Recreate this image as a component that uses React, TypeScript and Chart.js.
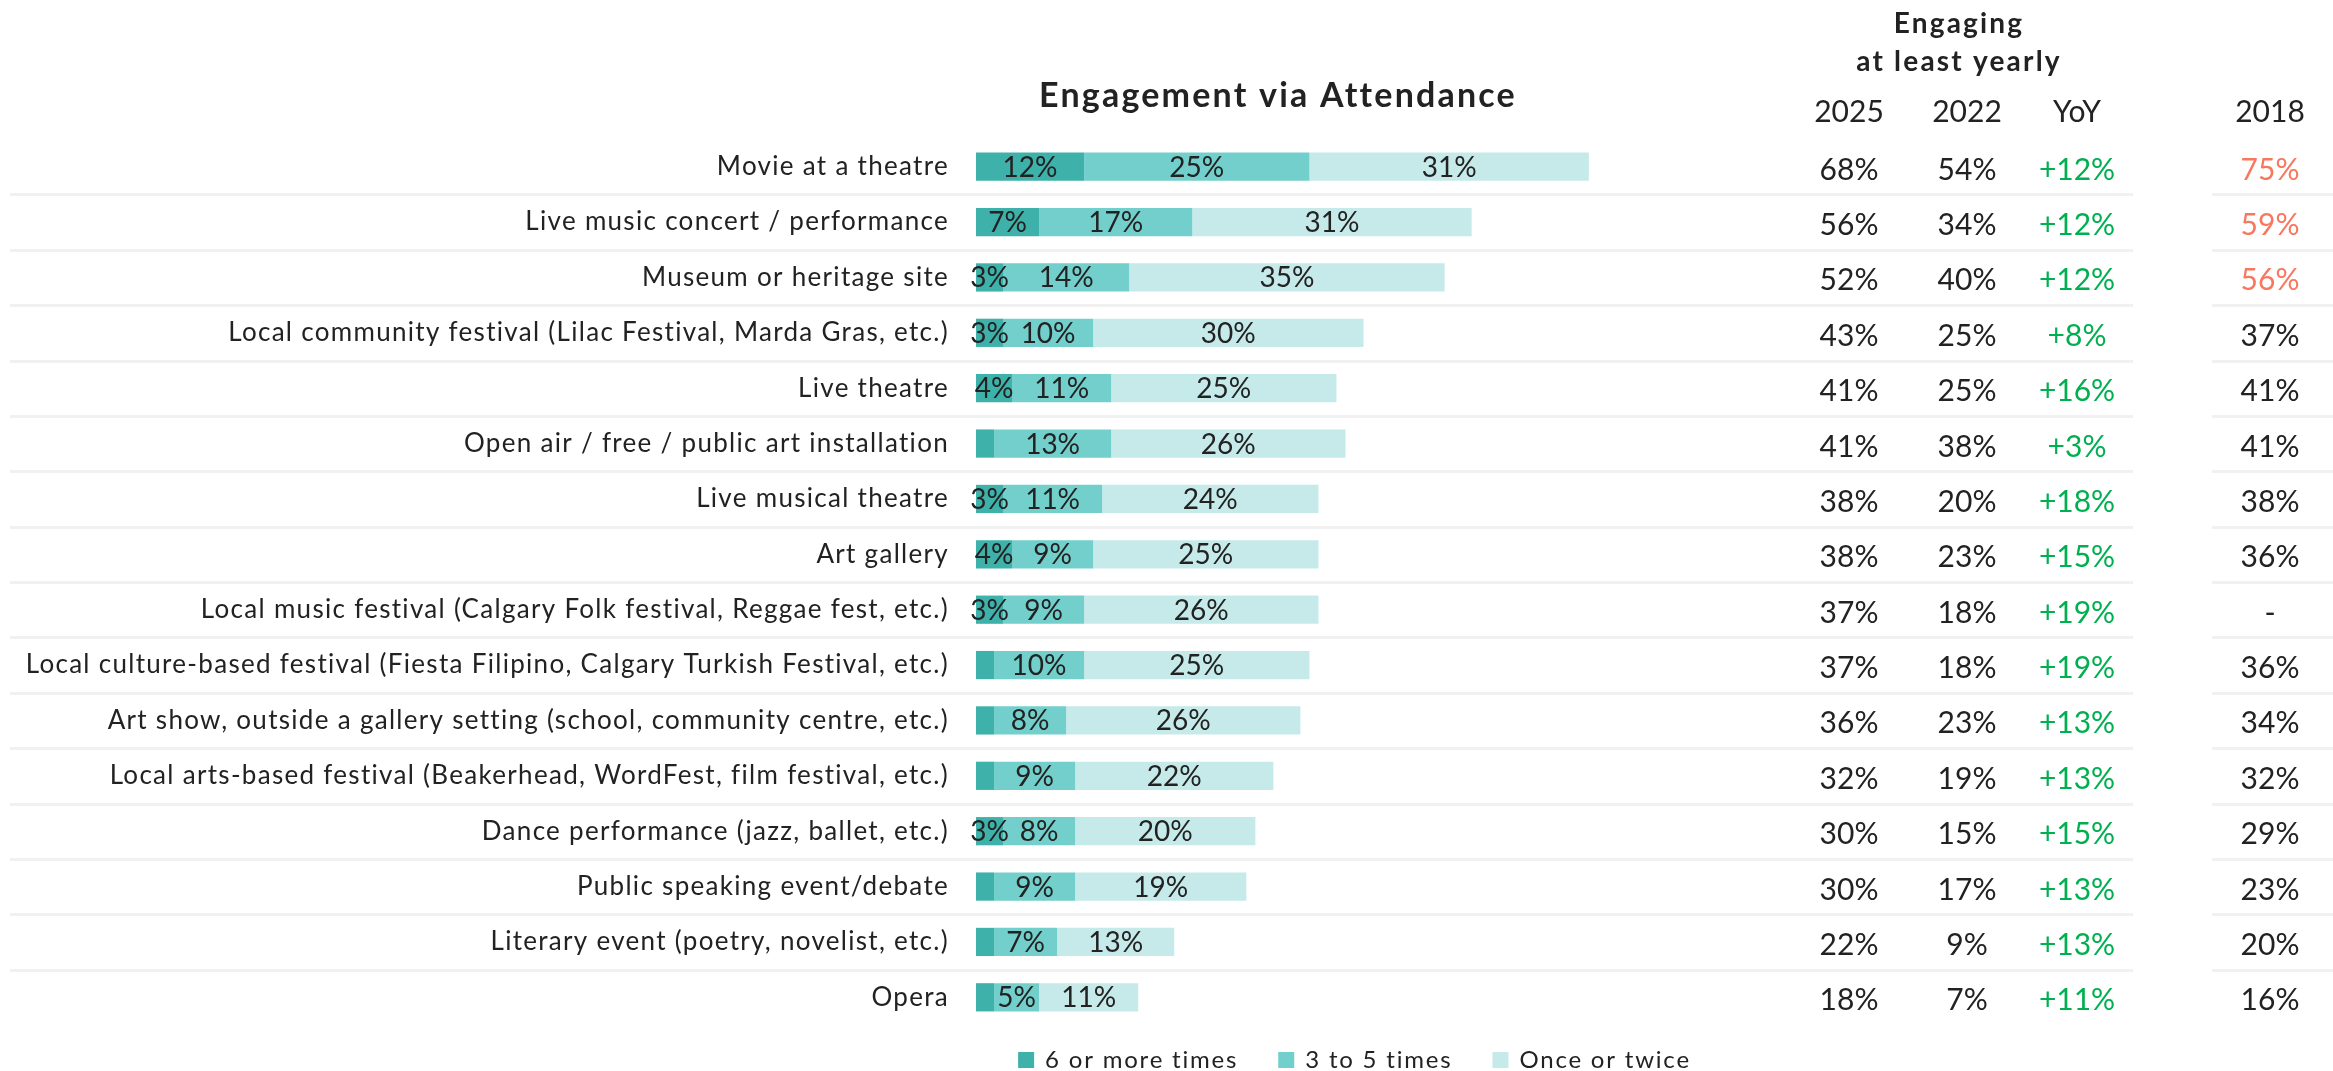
import React, { useEffect, useRef } from 'react';
import { Chart, registerables } from 'chart.js';

Chart.register(...registerables);

const categories = [
  'Movie at a theatre',
  'Live music concert / performance',
  'Museum or heritage site',
  'Local community festival (Lilac Festival, Marda Gras, etc.)',
  'Live theatre',
  'Open air / free / public art installation',
  'Live musical theatre',
  'Art gallery',
  'Local music festival (Calgary Folk festival, Reggae fest, etc.)',
  'Local culture-based festival (Fiesta Filipino, Calgary Turkish Festival, etc.)',
  'Art show, outside a gallery setting (school, community centre, etc.)',
  'Local arts-based festival (Beakerhead, WordFest, film festival, etc.)',
  'Dance performance (jazz, ballet, etc.)',
  'Public speaking event/debate',
  'Literary event (poetry, novelist, etc.)',
  'Opera',
];

const sixOrMore = [12, 7, 3, 3, 4, 2, 3, 4, 3, 2, 2, 2, 3, 2, 2, 2];
const threeToFive = [25, 17, 14, 10, 11, 13, 11, 9, 9, 10, 8, 9, 8, 9, 7, 5];
const onceOrTwice = [31, 31, 35, 30, 25, 26, 24, 25, 26, 25, 26, 22, 20, 19, 13, 11];

const engaged2025 = [68, 56, 52, 43, 41, 41, 38, 38, 37, 37, 36, 32, 30, 30, 22, 18];
const engaged2022 = [54, 34, 40, 25, 25, 38, 20, 23, 18, 18, 23, 19, 15, 17, 9, 7];
const yoyChange = [12, 12, 12, 8, 16, 3, 18, 15, 19, 19, 13, 13, 15, 13, 13, 11];
const engaged2018: (number | null)[] = [75, 59, 56, 37, 41, 41, 38, 36, null, 36, 34, 32, 29, 23, 20, 16];

const seriesNames = ['6 or more times', '3 to 5 times', 'Once or twice'];
const seriesColors = ['#3EB1AA', '#72CFCB', '#C6EAEA'];
const tableHeaders = ['2025', '2022', 'YoY', '2018'];
const chartTitle = 'Engagement via Attendance';
const tableTitle = ['Engaging', 'at least yearly'];
const X_MAX = 84;

const FONT = 'Lato, "Open Sans", sans-serif';
const TEXT = '#222222';
const GREEN = '#00B050';
const CORAL = '#F7785F';
const SEP = '#F1F1F1';

const overlayPlugin = {
  id: 'overlay',
  beforeDraw(chart: any) {
    // spacing used by the category tick labels
    (chart.ctx as any).letterSpacing = '1.3px';
  },
  beforeDatasetsDraw(chart: any) {
    const ctx = chart.ctx;
    const y = chart.scales.y;
    ctx.save();
    ctx.fillStyle = SEP;
    for (let i = 0; i < categories.length - 1; i++) {
      const yb = (y.getPixelForValue(i) + y.getPixelForValue(i + 1)) / 2;
      ctx.fillRect(10, Math.round(yb) - 1, 2123, 3);
      ctx.fillRect(2212, Math.round(yb) - 1, 121, 3);
    }
    ctx.restore();
  },
  afterDatasetsDraw(chart: any) {
    const ctx = chart.ctx;
    ctx.save();
    (ctx as any).letterSpacing = '0px';
    ctx.font = `28px ${FONT}`;
    ctx.fillStyle = TEXT;
    ctx.textAlign = 'center';
    ctx.textBaseline = 'alphabetic';
    chart.data.datasets.forEach((ds: any, di: number) => {
      const meta = chart.getDatasetMeta(di);
      meta.data.forEach((bar: any, i: number) => {
        const v = ds.data[i];
        if (v < 3) return;
        const p = bar.getProps(['x', 'y', 'base'], true);
        ctx.fillText(v + '%', (p.x + p.base) / 2, p.y + 10);
      });
    });
    ctx.restore();
  },
  afterDraw(chart: any) {
    const ctx = chart.ctx;
    const y = chart.scales.y;
    ctx.save();
    ctx.fillStyle = TEXT;
    ctx.textAlign = 'center';
    ctx.textBaseline = 'alphabetic';
    // chart title
    (ctx as any).letterSpacing = '2.2px';
    ctx.font = `bold 34px ${FONT}`;
    ctx.fillText(chartTitle, 1278, 107);
    // table title
    (ctx as any).letterSpacing = '2.2px';
    ctx.font = `bold 28px ${FONT}`;
    ctx.fillText(tableTitle[0], 1959, 33);
    ctx.fillText(tableTitle[1], 1959, 71);
    // headers
    (ctx as any).letterSpacing = '0px';
    const colX = [1849, 1967, 2077, 2270];
    ctx.font = `30px ${FONT}`;
    tableHeaders.forEach((h, k) => ctx.fillText(h, colX[k], 122));
    // values
    categories.forEach((_, i) => {
      const yy = y.getPixelForValue(i) + 13;
      ctx.fillStyle = TEXT;
      ctx.fillText(engaged2025[i] + '%', colX[0], yy);
      ctx.fillText(engaged2022[i] + '%', colX[1], yy);
      ctx.fillStyle = GREEN;
      ctx.fillText((yoyChange[i] >= 0 ? '+' : '') + yoyChange[i] + '%', colX[2], yy);
      const v18 = engaged2018[i];
      ctx.fillStyle = v18 !== null && v18 > engaged2025[i] ? CORAL : TEXT;
      ctx.fillText(v18 === null ? '-' : v18 + '%', colX[3], yy);
    });
    // legend
    (ctx as any).letterSpacing = '1.8px';
    ctx.font = `24px ${FONT}`;
    ctx.textAlign = 'left';
    const items = chart.data.datasets.map((ds: any) => ({
      label: ds.label,
      color: ds.backgroundColor,
      w: 16 + 11 + ctx.measureText(ds.label).width,
    }));
    const gap = 40;
    const total = items.reduce((s: number, it: any) => s + it.w, 0) + gap * (items.length - 1);
    let lx = 1354.5 - total / 2;
    items.forEach((it: any) => {
      ctx.fillStyle = it.color;
      ctx.fillRect(lx, 1052, 16, 16);
      ctx.fillStyle = TEXT;
      ctx.fillText(it.label, lx + 27, 1068);
      lx += it.w + gap;
    });
    ctx.restore();
  },
};

export default function App() {
  const ref = useRef<HTMLCanvasElement | null>(null);
  useEffect(() => {
    if (!ref.current) return;
    const series = [sixOrMore, threeToFive, onceOrTwice];
    const chart = new Chart(ref.current, {
      type: 'bar',
      data: {
        labels: categories,
        datasets: series.map((d, k) => ({
          label: seriesNames[k],
          data: d,
          backgroundColor: seriesColors[k],
          borderWidth: 0,
          barPercentage: 0.85,
          categoryPercentage: 0.6,
        })),
      },
      options: {
        indexAxis: 'y',
        responsive: false,
        animation: false,
        devicePixelRatio: 1,
        layout: { padding: { top: 139, bottom: 46, left: 0, right: 600 } },
        plugins: {
          legend: { display: false },
          title: { display: false },
          tooltip: { enabled: false },
        },
        scales: {
          x: { stacked: true, min: 0, max: X_MAX, display: false },
          y: {
            stacked: true,
            grid: { display: false, drawTicks: false },
            border: { display: false },
            ticks: {
              padding: 27,
              color: TEXT,
              font: { family: FONT, size: 26 },
              autoSkip: false,
            },
            afterFit: (scale: any) => {
              scale.width = 976;
            },
          },
        },
      },
      plugins: [overlayPlugin],
    });
    return () => chart.destroy();
  }, []);
  return (
    <div style={{ position: 'absolute', left: 0, top: 0, width: 2333, height: 1071, background: '#fff' }}>
      <canvas ref={ref} width={2333} height={1071} style={{ display: 'block' }} />
    </div>
  );
}
